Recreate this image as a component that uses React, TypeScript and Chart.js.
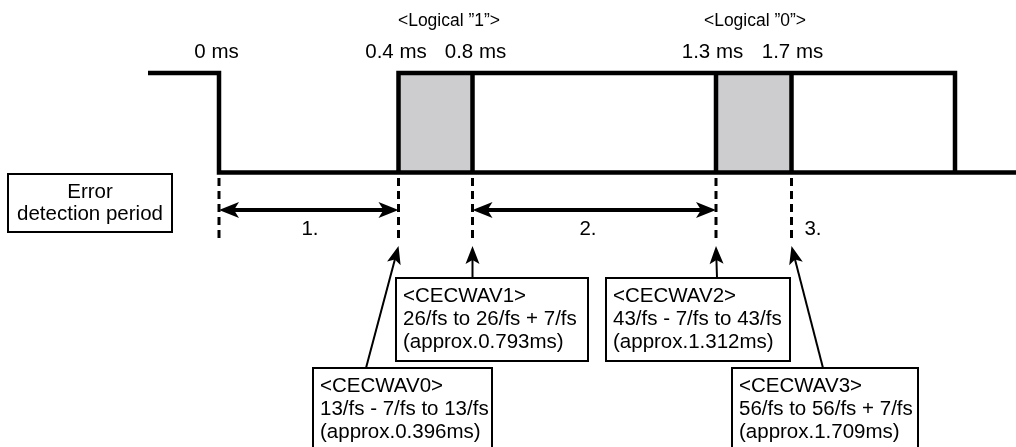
import React, { useEffect, useRef } from 'react';
import { Chart, registerables } from 'chart.js';

Chart.register(...registerables);

// ---------- values ----------
const edgeLabels = ['0 ms', '0.4 ms', '0.8 ms', '1.3 ms', '1.7 ms'];
// schematic (not to scale) position of each edge along the time axis
const edgePositions = [219, 398.5, 472.5, 716, 791.5];
const edgeLabelCenters = [216.5, 396, 475.5, 712.5, 792.5];

const logicalLabels = ['<Logical ”1”>', '<Logical ”0”>'];
const logicalCenters = [449, 755];

// signal levels (diagram units)
const LEVEL_HIGH = 73;
const LEVEL_LOW = 172.5;
const traceStart = 148;
const frameEnd = 955;
const traceEnd = 1016;

// shaded sampling windows: [fromEdge, toEdge]
const windows = [
  [1, 2],
  [3, 4],
];

// measured periods: [fromEdge, toEdge]
const periods = [
  [0, 1],
  [2, 3],
];
const periodLabels = ['1.', '2.', '3.'];
const periodLabelCenters = [310, 588, 813];

const errorBoxLines = ['Error', 'detection period'];

const registerNames = ['<CECWAV0>', '<CECWAV1>', '<CECWAV2>', '<CECWAV3>'];
const registerRanges = [
  '13/fs - 7/fs to 13/fs',
  '26/fs to 26/fs + 7/fs',
  '43/fs - 7/fs to 43/fs',
  '56/fs to 56/fs + 7/fs',
];
const registerApprox = [
  '(approx.0.396ms)',
  '(approx.0.793ms)',
  '(approx.1.312ms)',
  '(approx.1.709ms)',
];
const registerEdge = [1, 2, 3, 4];

// ---------- layout ----------
const boxLeft = [313, 396, 606, 732];
const boxRight = [492, 588, 790, 918];
const boxTop = [368, 278, 278, 368];
const boxHeight = 83;
const pointerFootX = [366, 472.5, 717, 823];
const POINTER_TIP_Y = 246;
const DASH_TOP = 178;
const DASH_BOTTOM = 242;
const PERIOD_ARROW_Y = 210;
const PERIOD_LABEL_BASE = 235;
const EDGE_LABEL_BASE = 58;
const LOGICAL_LABEL_BASE = 26;
const errorBox = { left: 8, top: 174, right: 172, bottom: 232 };
const errorBaselines = [198, 220];

const FONT = '"Liberation Sans", Arial, Helvetica, sans-serif';
const MAIN_FONT = `20.5px ${FONT}`;

type P = { x: number; y: number | null };

function buildWave(): P[] {
  const segs: [number, number][][] = [
    [
      [traceStart, LEVEL_HIGH],
      [edgePositions[0], LEVEL_HIGH],
      [edgePositions[0], LEVEL_LOW],
      [frameEnd, LEVEL_LOW],
    ],
    [
      [edgePositions[1], LEVEL_LOW],
      [edgePositions[1], LEVEL_HIGH],
      [frameEnd, LEVEL_HIGH],
      [frameEnd, LEVEL_LOW],
      [traceEnd, LEVEL_LOW],
    ],
    [
      [edgePositions[2], LEVEL_LOW],
      [edgePositions[2], LEVEL_HIGH],
    ],
    [
      [edgePositions[3], LEVEL_LOW],
      [edgePositions[3], LEVEL_HIGH],
    ],
    [
      [edgePositions[4], LEVEL_LOW],
      [edgePositions[4], LEVEL_HIGH],
    ],
  ];
  const out: P[] = [];
  segs.forEach((s, i) => {
    if (i > 0) out.push({ x: (s[0][0] + out[out.length - 1].x) / 2, y: null });
    s.forEach(([x, y]) => out.push({ x, y }));
  });
  return out;
}

function arrowHead(
  ctx: CanvasRenderingContext2D,
  tx: number,
  ty: number,
  fx: number,
  fy: number,
  len: number,
  half: number,
  notch: number
) {
  const dx = tx - fx;
  const dy = ty - fy;
  const d = Math.hypot(dx, dy) || 1;
  const ux = dx / d;
  const uy = dy / d;
  const nx = -uy;
  const ny = ux;
  ctx.beginPath();
  ctx.moveTo(tx, ty);
  ctx.lineTo(tx - len * ux + half * nx, ty - len * uy + half * ny);
  ctx.lineTo(tx - (len - notch) * ux, ty - (len - notch) * uy);
  ctx.lineTo(tx - len * ux - half * nx, ty - len * uy - half * ny);
  ctx.closePath();
  ctx.fill();
}

const annotations = {
  id: 'timingAnnotations',
  afterDatasetsDraw(chart: any) {
    const ctx: CanvasRenderingContext2D = chart.ctx;
    const xs = chart.scales.x;
    const ys = chart.scales.y;
    const X = (v: number) => xs.getPixelForValue(v);
    const Y = (v: number) => ys.getPixelForValue(v);
    ctx.save();
    ctx.fillStyle = '#000';
    ctx.strokeStyle = '#000';

    // top labels
    ctx.textAlign = 'center';
    ctx.textBaseline = 'alphabetic';
    ctx.font = `17.5px ${FONT}`;
    logicalLabels.forEach((t, i) => ctx.fillText(t, X(logicalCenters[i]), Y(LOGICAL_LABEL_BASE)));
    ctx.font = MAIN_FONT;
    edgeLabels.forEach((t, i) => ctx.fillText(t, X(edgeLabelCenters[i]), Y(EDGE_LABEL_BASE)));

    // period double arrows
    periods.forEach(([a, b]) => {
      const x1 = X(edgePositions[a]);
      const x2 = X(edgePositions[b]);
      const y = Y(PERIOD_ARROW_Y);
      ctx.lineWidth = 4;
      ctx.lineCap = 'butt';
      ctx.beginPath();
      ctx.moveTo(x1 + 14, y);
      ctx.lineTo(x2 - 14, y);
      ctx.stroke();
      arrowHead(ctx, x1, y, x2, y, 20, 8, 5);
      arrowHead(ctx, x2, y, x1, y, 20, 8, 5);
    });
    periodLabels.forEach((t, i) => ctx.fillText(t, X(periodLabelCenters[i]), Y(PERIOD_LABEL_BASE)));

    // error detection box
    ctx.lineWidth = 2;
    ctx.strokeRect(
      X(errorBox.left),
      Y(errorBox.top),
      X(errorBox.right) - X(errorBox.left),
      Y(errorBox.bottom) - Y(errorBox.top)
    );
    const ecx = (X(errorBox.left) + X(errorBox.right)) / 2;
    errorBoxLines.forEach((t, i) => ctx.fillText(t, ecx, Y(errorBaselines[i])));

    // register boxes + pointer arrows
    ctx.textAlign = 'left';
    registerNames.forEach((name, i) => {
      const l = X(boxLeft[i]);
      const r = X(boxRight[i]);
      const t = Y(boxTop[i]);
      const b = Y(boxTop[i] + boxHeight);
      ctx.lineWidth = 2;
      ctx.strokeRect(l, t, r - l, b - t);
      const lines = [name, registerRanges[i], registerApprox[i]];
      lines.forEach((s, k) => ctx.fillText(s, l + 7, t + 24 + k * 22.8));
      // pointer
      const fx = X(pointerFootX[i]);
      const fy = t;
      const tx = X(edgePositions[registerEdge[i]]);
      const ty = Y(POINTER_TIP_Y);
      const d = Math.hypot(tx - fx, ty - fy);
      const ux = (tx - fx) / d;
      const uy = (ty - fy) / d;
      ctx.lineWidth = 2;
      ctx.beginPath();
      ctx.moveTo(fx, fy);
      ctx.lineTo(tx - ux * 12, ty - uy * 12);
      ctx.stroke();
      arrowHead(ctx, tx, ty, fx, fy, 18, 7, 4);
    });

    ctx.restore();
  },
};

export default function App() {
  const ref = useRef<HTMLCanvasElement | null>(null);

  useEffect(() => {
    if (!ref.current) return;
    const windowSets = windows.map(([a, b]) => ({
      data: [
        { x: edgePositions[a], y: LEVEL_HIGH },
        { x: edgePositions[b], y: LEVEL_HIGH },
      ],
      borderWidth: 0,
      borderColor: 'rgba(0,0,0,0)',
      backgroundColor: '#cdcdd0',
      fill: { value: LEVEL_LOW },
      pointRadius: 0,
      order: 3,
    }));
    const dashSets = edgePositions.map((x) => ({
      data: [
        { x, y: DASH_TOP },
        { x, y: DASH_BOTTOM },
      ],
      borderColor: '#000',
      borderWidth: 3,
      borderDash: [8, 5],
      fill: false,
      pointRadius: 0,
      order: 2,
    }));
    const chart = new Chart(ref.current, {
      type: 'line',
      data: {
        datasets: [
          {
            data: buildWave(),
            borderColor: '#000',
            borderWidth: 4.5,
            borderJoinStyle: 'miter',
            borderCapStyle: 'butt',
            fill: false,
            pointRadius: 0,
            tension: 0,
            spanGaps: false,
            order: 1,
          },
          ...windowSets,
          ...dashSets,
        ] as any,
      },
      options: {
        animation: false,
        responsive: false,
        devicePixelRatio: 1,
        layout: { padding: 0 },
        events: [],
        scales: {
          x: { type: 'linear', min: 0, max: 1016, display: false },
          y: { type: 'linear', min: 0, max: 447, reverse: true, display: false },
        },
        plugins: {
          legend: { display: false },
          tooltip: { enabled: false },
        },
      },
      plugins: [annotations],
    });
    return () => chart.destroy();
  }, []);

  return (
    <div style={{ position: 'fixed', left: 0, top: 0, width: 1016, height: 447, background: '#fff' }}>
      <canvas ref={ref} width={1016} height={447} style={{ display: 'block', width: 1016, height: 447 }} />
    </div>
  );
}
